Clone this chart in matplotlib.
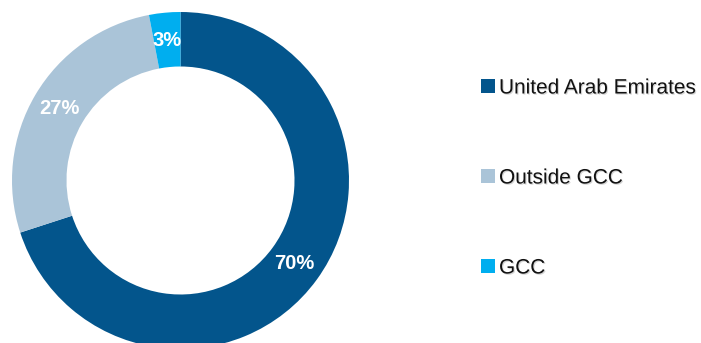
import matplotlib
matplotlib.use("Agg")
import matplotlib.pyplot as plt
from matplotlib.patches import Rectangle
import matplotlib.patheffects as pe

categories = ["United Arab Emirates", "Outside GCC", "GCC"]
shares = [70, 27, 3]
colors = ["#03558C", "#AAC4D8", "#00AEEF"]

W, H = 701, 343
fig = plt.figure(figsize=(W / 100, H / 100), dpi=100)
fig.patch.set_facecolor("white")

# donut occupies a square box of 337 px, centred at (180.5, 180.5) px from top-left
cx, cy, R = 180.5, 180.5, 168.5
ax = fig.add_axes([(cx - R) / W, (H - cy - R) / H, 2 * R / W, 2 * R / H])
wedges, texts, autotexts = ax.pie(
    shares,
    colors=colors,
    startangle=90,
    counterclock=False,
    wedgeprops=dict(width=1 - 114 / 168.5, edgecolor="none"),
    autopct=lambda p: f"{p:.0f}%",
    pctdistance=0.837,
    textprops=dict(color="white", fontsize=14.5, fontweight="bold",
                   family="Liberation Sans"),
)
ax.set_xlim(-1, 1)
ax.set_ylim(-1, 1)
ax.set_axis_off()

# legend entries
rows_y = [86, 176, 266]
for name, col, yy in zip(categories, colors, rows_y):
    fig.patches.append(Rectangle((481 / W, 1 - (yy + 7) / H), 14 / W, 14 / H,
                                 transform=fig.transFigure, facecolor=col,
                                 edgecolor="none"))
    fig.text(499 / W, 1 - yy / H, name, ha="left", va="center_baseline",
             fontsize=15, family="Liberation Sans", color="#111111",
             path_effects=[pe.withSimplePatchShadow(offset=(0.8, -0.8),
                                                    shadow_rgbFace="#888888",
                                                    alpha=0.35)])

fig.savefig("out.png", dpi=100)
